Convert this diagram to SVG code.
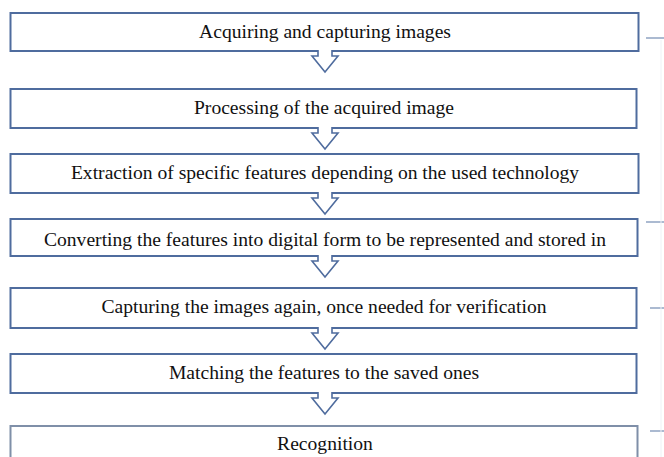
<svg xmlns="http://www.w3.org/2000/svg" width="664" height="457" viewBox="0 0 664 457">
<style>
.box{fill:#fff;stroke:#4f6c9e;stroke-width:2}
.txt{font-family:"Liberation Serif","Times New Roman",serif;font-size:19.6px;fill:#111;text-anchor:middle;dominant-baseline:central}
.arr{fill:#fff;stroke:#4f6c9e;stroke-width:1.6;stroke-linejoin:miter}
.tick{stroke:#8fa3c2;stroke-width:1.5;fill:none}
</style>
<rect width="664" height="457" fill="#fff"/>
<g id="n1"><rect class="box" x="10.5" y="13" width="628" height="38"/><text class="txt" x="325" y="31">Acquiring and capturing images</text></g>
<g id="n2"><rect class="box" x="10.5" y="89" width="626" height="39"/><text class="txt" x="324" y="107">Processing of the acquired image</text></g>
<g id="n3"><rect class="box" x="10.5" y="154" width="628" height="39"/><text class="txt" x="325" y="172">Extraction of specific features depending on the used technology</text></g>
<g id="n4"><rect class="box" x="10.5" y="219" width="627" height="37"/><text class="txt" x="325" y="239">Converting the features into digital form to be represented and stored in</text></g>
<g id="n5"><rect class="box" x="10.5" y="288" width="626" height="40"/><text class="txt" x="324" y="306">Capturing the images again, once needed for verification</text></g>
<g id="n6"><rect class="box" x="10.5" y="354" width="626" height="39"/><text class="txt" x="324" y="372">Matching the features to the saved ones</text></g>
<g id="n7"><rect class="box" x="10.5" y="426" width="627" height="50" style="stroke:#7f8fa8"/><text class="txt" x="325" y="443">Recognition</text></g>
<g id="connectors">
<path class="arr" d="M318 50 V56 H312 L325 72 L338 56 H332 V50"/>
<path class="arr" d="M318 127 V133 H312 L325 149 L338 133 H332 V127"/>
<path class="arr" d="M318 192 V198 H312 L325 214 L338 198 H332 V192"/>
<path class="arr" d="M318 255 V261 H312 L325 277 L338 261 H332 V255"/>
<path class="arr" d="M318 327 V333 H312 L325 349 L338 333 H332 V327"/>
<path class="arr" d="M318 392 V398 H312 L325 414 L338 398 H332 V392"/>
</g>
<g id="bracket">
<path class="tick" d="M646 38 H664"/>
<path class="tick" d="M646 222 H664"/>
<path class="tick" d="M650 308 H664"/>
<path class="tick" d="M650 431 H664"/>
<path d="M661 40 V457" stroke="#eef1f6" stroke-width="1"/>
</g>
</svg>
